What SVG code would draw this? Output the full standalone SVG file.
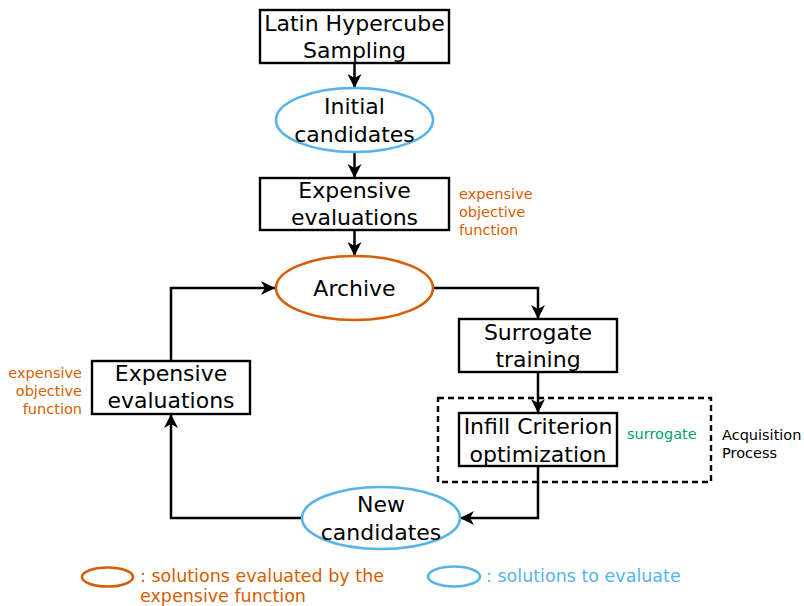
<svg xmlns="http://www.w3.org/2000/svg" width="804" height="606" viewBox="0 0 804 606">
<defs>
<style>
.box{fill:#fff;stroke:#000;stroke-width:2.4}
.ell{fill:#fff;stroke-width:2.6}
.orange{stroke:#d55e00}
.blue{stroke:#56b4e9}
.t{font-family:"DejaVu Sans",sans-serif;font-size:22px;fill:#000;text-anchor:middle}
.s{font-family:"DejaVu Sans",sans-serif;font-size:14.5px}
.lg{font-family:"DejaVu Sans",sans-serif;font-size:17.5px}
.conn{fill:none;stroke:#000;stroke-width:2.5}
</style>
<marker id="arr" markerUnits="userSpaceOnUse" markerWidth="16" markerHeight="16" refX="14" refY="7" orient="auto">
<path d="M0,0 L14,7 L0,14 L4,7 z" fill="#000"/>
</marker>
</defs>
<rect width="804" height="606" fill="#fff"/>

<g id="connectors">
<path class="conn" d="M354.5,63 V88" marker-end="url(#arr)"/>
<path class="conn" d="M354.5,152 V178" marker-end="url(#arr)"/>
<path class="conn" d="M354.5,230 V256" marker-end="url(#arr)"/>
<path class="conn" d="M433,288 H538 V319" marker-end="url(#arr)"/>
<path class="conn" d="M538,372 V413" marker-end="url(#arr)"/>
<path class="conn" d="M538,466 V518 H460" marker-end="url(#arr)"/>
<path class="conn" d="M302,518 H171 V414" marker-end="url(#arr)"/>
<path class="conn" d="M171,361 V288 H275" marker-end="url(#arr)"/>
</g>

<g id="lhs">
<rect class="box" x="260" y="10" width="189" height="53"/>
<text class="t" x="354.5" y="31">Latin Hypercube</text>
<text class="t" x="354.5" y="58">Sampling</text>
</g>

<g id="initial">
<ellipse class="ell blue" cx="354.5" cy="120" rx="78.5" ry="32"/>
<text class="t" x="354.5" y="114">Initial</text>
<text class="t" x="354.5" y="142">candidates</text>
</g>

<g id="eval1">
<rect class="box" x="260" y="178" width="189" height="52"/>
<text class="t" x="354.5" y="198">Expensive</text>
<text class="t" x="354.5" y="225">evaluations</text>
<text class="s" x="459" y="199" fill="#d55e00">expensive</text>
<text class="s" x="459" y="217" fill="#d55e00">objective</text>
<text class="s" x="459" y="235" fill="#d55e00">function</text>
</g>

<g id="archive">
<ellipse class="ell orange" cx="354.5" cy="288" rx="78.5" ry="32"/>
<text class="t" x="354.5" y="296">Archive</text>
</g>

<g id="surrogate">
<rect class="box" x="459" y="319" width="158" height="53"/>
<text class="t" x="538" y="340">Surrogate</text>
<text class="t" x="538" y="367">training</text>
</g>

<g id="acquisition">
<rect x="438" y="398" width="273" height="84" fill="none" stroke="#000" stroke-width="2.4" stroke-dasharray="6,4"/>
<text class="s" x="722" y="440" fill="#000">Acquisition</text>
<text class="s" x="722" y="458" fill="#000">Process</text>
</g>

<g id="infill">
<rect class="box" x="459" y="413" width="158" height="53"/>
<text class="t" x="538" y="434">Infill Criterion</text>
<text class="t" x="538" y="462">optimization</text>
<text class="s" x="627" y="439" fill="#009e73">surrogate</text>
</g>

<g id="newcand">
<ellipse class="ell blue" cx="381" cy="518" rx="79" ry="31"/>
<text class="t" x="381" y="512">New</text>
<text class="t" x="381" y="540">candidates</text>
</g>

<g id="eval2">
<rect class="box" x="92" y="361" width="158" height="53"/>
<text class="t" x="171" y="381">Expensive</text>
<text class="t" x="171" y="408">evaluations</text>
<text class="s" x="82" y="378" fill="#d55e00" text-anchor="end">expensive</text>
<text class="s" x="82" y="396" fill="#d55e00" text-anchor="end">objective</text>
<text class="s" x="82" y="414" fill="#d55e00" text-anchor="end">function</text>
</g>

<g id="legend">
<ellipse class="ell orange" cx="107.5" cy="577" rx="25.5" ry="9.5"/>
<text class="lg" x="140" y="582" fill="#d55e00">: solutions evaluated by the</text>
<text class="lg" x="140" y="602" fill="#d55e00">expensive function</text>
<ellipse class="ell blue" cx="454" cy="576.5" rx="26" ry="10"/>
<text class="lg" x="486" y="582" fill="#56b4e9">: solutions to evaluate</text>
</g>
</svg>
